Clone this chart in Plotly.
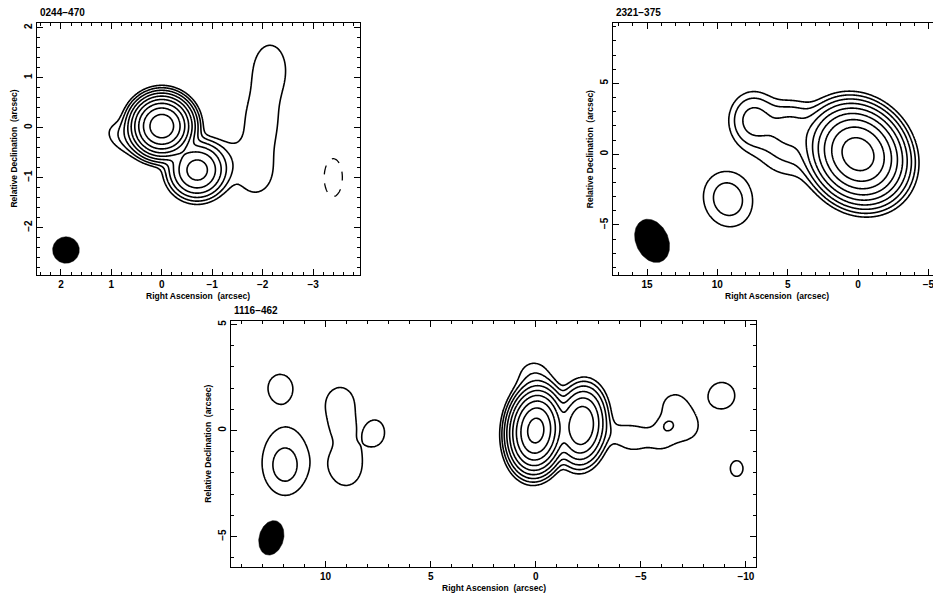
import numpy as np
import plotly.graph_objects as go

# ---------------- data (arcsec; amplitudes in units of the lowest contour) ----------------
# Panel 1 : 0244-470
P1_NAME = "0244−470"
P1_CX = [0.00, -0.70, 0.72, -2.15, -1.97, -1.85, -1.20, -3.40]
P1_CY = [0.03, -0.85, -0.20, 1.20, 0.10, -0.95, -0.60, -1.00]
P1_AMP = [420.0, 44.0, 1.9, 1.6, 1.5, 1.35, 1.0, -1.5]
P1_SIGA = [0.235, 0.25, 0.30, 0.45, 0.55, 0.40, 0.30, 0.42]
P1_SIGB = [0.235, 0.25, 0.20, 0.29, 0.33, 0.33, 0.30, 0.20]
P1_PA = [0, 0, 62, 0, 0, 0, 0, 0]
P1_NLEV = 9
P1_BEAM = [1.90, -2.45, 0.265, 0.265, 0]          # x, y, semi-major, semi-minor, PA
P1_XRANGE = [2.48, -3.93]
P1_YRANGE = [-2.95, 2.10]

# Panel 2 : 2321-375
P2_NAME = "2321−375"
P2_CX = [0.00, 7.45, 4.80, 4.80, 9.25]
P2_CY = [0.00, 2.40, 2.00, 0.60, -3.18]
P2_AMP = [384.0, 5.2, 3.5, 2.4, 2.9]
P2_SIGA = [1.36, 1.10, 1.00, 1.50, 1.35]
P2_SIGB = [1.18, 0.95, 1.10, 1.60, 1.17]
P2_PA = [40, 0, 0, 0, 20]
P2_NLEV = 9
P2_BEAM = [14.64, -6.12, 1.60, 1.15, 25]
P2_XRANGE = [17.4, -5.83]
P2_YRANGE = [-8.53, 9.28]

# Panel 3 : 1116-462
P3_NAME = "1116−462"
P3_CX = [0.00, -2.18, 0.10, -3.80, -4.60, -5.90, -7.20, -6.60, -6.25, -8.85, -9.56,
         12.16, 11.95, 11.90, 9.30, 9.00, 9.20, 7.60]
P3_CY = [0.00, 0.24, 2.60, -0.15, -0.35, -0.35, 0.15, 1.20, 0.24, 1.65, -1.79,
         2.05, -1.72, -1.30, 1.30, -1.60, 0.20, -0.08]
P3_AMP = [343.0, 60.0, 1.5, 0.9, 1.5, 1.3, 1.3, 1.3, 0.8, 1.7, 1.25,
          1.55, 1.3, 1.5, 1.5, 1.6, 0.8, 1.45]
P3_SIGA = [0.76, 0.80, 0.60, 0.45, 0.50, 0.62, 0.62, 0.62, 0.25, 0.60, 0.55,
           0.60, 0.70, 1.55, 0.80, 1.00, 0.50, 0.60]
P3_SIGB = [0.50, 0.50, 0.60, 0.45, 0.50, 0.62, 0.62, 0.62, 0.25, 0.60, 0.45,
           0.55, 0.55, 1.02, 0.70, 0.75, 0.45, 0.45]
P3_PA = [-5, -5, 0, 0, 0, 0, 0, 0, 0, 0, 0, 0, 0, 0, 0, 0, 0, 0]
P3_NLEV = 9
P3_BEAM = [12.58, -5.06, 0.83, 0.58, -16]
P3_XRANGE = [14.5, -10.48]
P3_YRANGE = [-6.42, 5.18]

X_TITLE = "Right Ascension  (arcsec)"
Y_TITLE = "Relative Declination  (arcsec)"


def brightness(xg, yg, cx, cy, amp, siga, sigb, pa):
    X, Y = np.meshgrid(xg, yg)
    I = np.zeros_like(X)
    for x0, y0, a, sa, sb, p in zip(cx, cy, amp, siga, sigb, pa):
        t = np.radians(p)
        dx, dy = X - x0, Y - y0
        u = dx * np.sin(t) + dy * np.cos(t)
        v = dx * np.cos(t) - dy * np.sin(t)
        I += a * np.exp(-(u ** 2 / (2 * sa ** 2) + v ** 2 / (2 * sb ** 2)))
    return I


def beam_xy(b):
    x0, y0, a, bb, p = b
    t = np.linspace(0, 2 * np.pi, 120)
    th = np.radians(p)
    u, v = a * np.cos(t), bb * np.sin(t)
    return x0 + u * np.sin(th) + v * np.cos(th), y0 + u * np.cos(th) - v * np.sin(th)


fig = go.Figure()
BLACK = [[0, "black"], [1, "black"]]

panels = [
    (P1_CX, P1_CY, P1_AMP, P1_SIGA, P1_SIGB, P1_PA, P1_NLEV, P1_BEAM, P1_XRANGE, P1_YRANGE, "x", "y"),
    (P2_CX, P2_CY, P2_AMP, P2_SIGA, P2_SIGB, P2_PA, P2_NLEV, P2_BEAM, P2_XRANGE, P2_YRANGE, "x2", "y2"),
    (P3_CX, P3_CY, P3_AMP, P3_SIGA, P3_SIGB, P3_PA, P3_NLEV, P3_BEAM, P3_XRANGE, P3_YRANGE, "x3", "y3"),
]

for cx, cy, amp, sa, sb, pa, nlev, beam, xr, yr, xa, ya in panels:
    xg = np.linspace(min(xr) - 0.3, max(xr) + 0.3, 520)
    yg = np.linspace(min(yr) - 0.3, max(yr) + 0.3, 380)
    I = brightness(xg, yg, cx, cy, amp, sa, sb, pa)
    zpos = np.log2(np.maximum(I, 1e-6))
    fig.add_trace(go.Contour(
        x=xg, y=yg, z=zpos, xaxis=xa, yaxis=ya,
        contours=dict(coloring="lines", start=0, end=nlev - 1, size=1),
        line=dict(width=1.6, smoothing=1), colorscale=BLACK, showscale=False,
        hoverinfo="skip"))
    if (I < 0).any():
        zneg = np.log2(np.maximum(-I, 1e-6))
        fig.add_trace(go.Contour(
            x=xg, y=yg, z=zneg, xaxis=xa, yaxis=ya,
            contours=dict(coloring="lines", start=0, end=0, size=1),
            line=dict(width=1.3, dash="dash", smoothing=1), colorscale=BLACK,
            showscale=False, hoverinfo="skip"))
    bx, by = beam_xy(beam)
    fig.add_trace(go.Scatter(x=bx, y=by, xaxis=xa, yaxis=ya, mode="lines",
                             fill="toself", fillcolor="black",
                             line=dict(color="black", width=0.5),
                             hoverinfo="skip", showlegend=False))

# the page body adds an 8 px margin; the figure is sized to fill the rest of the window
OFF = 8
W, H = 941 - OFF, 595 - OFF
TICKFONT = dict(family="Liberation Sans", size=10, color="black", weight="bold")


def axis(rng, dom, anchor, dtick, minor, vertical=False):
    d = dict(range=rng, domain=dom, anchor=anchor, showline=True, linecolor="black",
             linewidth=1.3, mirror="ticks", ticks="inside", ticklen=6, tickwidth=1.1,
             tickcolor="black", dtick=dtick, tick0=0,
             minor=dict(ticks="inside", ticklen=3, dtick=minor, tick0=0,
                        tickcolor="black", tickwidth=1),
             showgrid=False, zeroline=False, tickfont=TICKFONT,
             automargin=False, fixedrange=True)
    if vertical:
        d["tickangle"] = -90
    return d


# frames in window pixels (left, right, top, bottom)
F1 = (36.7, 360.0, 22.7, 275.0)
F2 = (613.3, 940.0, 22.7, 275.0)
F3 = (231.0, 756.0, 320.7, 566.7)


def px(v):
    return (v - OFF) / W


def py(v):
    return 1 - (v - OFF) / H


def xd(f):
    return [px(f[0]), px(f[1])]


def yd(f):
    return [py(f[3]), py(f[2])]


fig.update_layout(
    width=W, height=H, margin=dict(l=0, r=0, t=0, b=0),
    paper_bgcolor="white", plot_bgcolor="white", showlegend=False,
    template="none",
    xaxis=axis(P1_XRANGE, xd(F1), "y", 1, 0.2),
    yaxis=axis(P1_YRANGE, yd(F1), "x", 1, 0.2, True),
    xaxis2=axis(P2_XRANGE, xd(F2), "y2", 5, 1),
    yaxis2=axis(P2_YRANGE, yd(F2), "x2", 5, 1, True),
    xaxis3=axis(P3_XRANGE, xd(F3), "y3", 5, 1),
    yaxis3=axis(P3_YRANGE, yd(F3), "x3", 5, 1, True),
)

NAMEFONT = dict(family="Liberation Sans", size=10, color="black", weight="bold")
LABFONT = dict(family="Liberation Sans", size=8.5, color="black", weight="bold")
ann = []
for f, name in ((F1, P1_NAME), (F2, P2_NAME), (F3, P3_NAME)):
    ann.append(dict(text=name, xref="paper", yref="paper", x=px(f[0] + 1),
                    y=py(f[2] - 3), xanchor="left", yanchor="bottom",
                    showarrow=False, font=NAMEFONT))
    ann.append(dict(text=X_TITLE, xref="paper", yref="paper", x=px((f[0] + f[1]) / 2),
                    y=py(f[3] + 21), xanchor="center", yanchor="middle",
                    showarrow=False, font=LABFONT))
    ann.append(dict(text=Y_TITLE, xref="paper", yref="paper", x=px(f[0] - 23),
                    y=py((f[2] + f[3]) / 2), xanchor="center", yanchor="middle",
                    textangle=-90, showarrow=False, font=LABFONT))
fig.update_layout(annotations=ann)

fig.write_html("out.html")
